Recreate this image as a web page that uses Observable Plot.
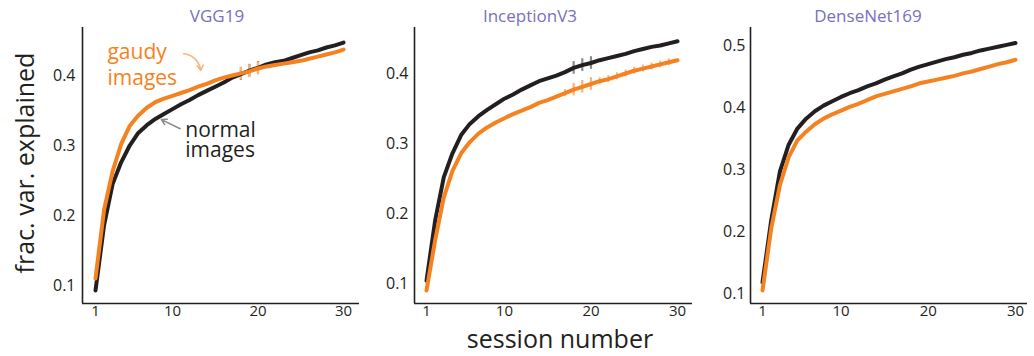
<!DOCTYPE html>
<html>
<head>
<meta charset="utf-8">
<script src="https://cdn.jsdelivr.net/npm/d3@7"></script>
<script src="https://cdn.jsdelivr.net/npm/@observablehq/plot@0.6"></script>
<style>
  html, body { margin: 0; padding: 0; background: #fff; }
  #root { position: relative; width: 1034px; height: 356px; overflow: hidden; font-family: "Open Sans", sans-serif; }
  .panel { position: absolute; top: 0; }
  .title { position: absolute; top: 4px; font-size: 17px; color: #7770BC; transform: translateX(-50%); white-space: nowrap; }
  .ylab { position: absolute; left: 24px; top: 163px; font-size: 25px; color: #231F20; transform: translate(-50%, -50%) rotate(-90deg); white-space: nowrap; }
  .xlab { position: absolute; left: 560px; top: 322px; font-size: 25px; line-height: 32px; color: #231F20; transform: translateX(-50%); white-space: nowrap; }
</style>
</head>
<body>
<div id="root"></div>
<script>
const sessions = d3.range(1, 31);
const models = ["VGG19", "InceptionV3", "DenseNet169"];

const vggNormal = [0.093,0.186,0.245,0.276,0.300,0.318,0.329,0.338,0.345,0.352,0.359,0.365,0.372,0.378,0.384,0.390,0.397,0.402,0.407,0.411,0.416,0.419,0.421,0.425,0.429,0.433,0.436,0.440,0.443,0.447];
const vggGaudy  = [0.110,0.208,0.263,0.302,0.328,0.343,0.354,0.362,0.367,0.371,0.375,0.379,0.384,0.388,0.393,0.397,0.400,0.403,0.406,0.410,0.413,0.415,0.417,0.419,0.421,0.424,0.427,0.430,0.433,0.437];
const incNormal = [0.104,0.190,0.252,0.286,0.312,0.328,0.339,0.348,0.356,0.364,0.370,0.377,0.383,0.389,0.393,0.397,0.402,0.408,0.412,0.415,0.419,0.422,0.425,0.428,0.432,0.435,0.438,0.440,0.443,0.446];
const incGaudy  = [0.090,0.162,0.223,0.261,0.286,0.302,0.314,0.323,0.330,0.336,0.342,0.347,0.352,0.358,0.362,0.367,0.372,0.377,0.381,0.385,0.389,0.392,0.396,0.400,0.404,0.407,0.410,0.413,0.416,0.419];
const denNormal = [0.118,0.218,0.297,0.340,0.366,0.382,0.394,0.403,0.410,0.417,0.423,0.428,0.434,0.439,0.445,0.450,0.455,0.461,0.466,0.470,0.474,0.478,0.481,0.485,0.488,0.492,0.495,0.498,0.501,0.504];
const denGaudy  = [0.105,0.205,0.275,0.320,0.347,0.361,0.373,0.382,0.389,0.395,0.401,0.406,0.412,0.418,0.422,0.426,0.430,0.434,0.439,0.442,0.445,0.448,0.451,0.455,0.458,0.462,0.466,0.470,0.473,0.477];

// sessions with visible error bars, and their half-widths
const errSessions = [18, 19, 20];
const errHalf = [0.009, 0.009, 0.009];
// faint error ticks along the gaudy curve of InceptionV3
const faintSessions = [17, 18, 19, 20, 21, 22, 23, 24, 25, 26, 27, 28, 29];
const faintHalf = 0.005;

const xTicks = [1, 10, 20, 30];
const yTicksA = [0.1, 0.2, 0.3, 0.4];
const yTicksB = [0.1, 0.2, 0.3, 0.4, 0.5];

const annGaudy = "gaudy\nimages";
const annNormal = "normal\nimages";

const BLACK = "#231F20", ORANGE = "#F58220", GRAY = "#8a8a8a", LORANGE = "#F9B27A";

const panels = [
  {name: models[0], normal: vggNormal, gaudy: vggGaudy, left: 0, width: 365, ml: 82, mr: 6,
   xd: [-0.52, 31.87], yd: [0.0743, 0.4686], yt: yTicksA, pad: 7, titleX: 217, errN: true, errG: true, faint: false},
  {name: models[1], normal: incNormal, gaudy: incGaudy, left: 340, width: 360, ml: 74, mr: 8,
   xd: [-0.386, 31.73], yd: [0.0714, 0.4657], yt: yTicksA, pad: 6, titleX: 530, errN: true, errG: true, faint: true},
  {name: models[2], normal: denNormal, gaudy: denGaudy, left: 680, width: 354, ml: 70, mr: 7,
   xd: [-0.376, 31.38], yd: [0.0839, 0.529], yt: yTicksB, pad: 5, titleX: 868, errN: false, errG: false, faint: false}
];

const root = document.getElementById("root");

panels.forEach((p, i) => {
  const normal = sessions.map((s, k) => ({s, v: p.normal[k]}));
  const gaudy = sessions.map((s, k) => ({s, v: p.gaudy[k]}));
  const errN = p.errN ? errSessions.map((s, k) => ({s, lo: p.normal[s-1] - errHalf[k], hi: p.normal[s-1] + errHalf[k]})) : [];
  const errG = p.errG ? errSessions.map((s, k) => ({s, lo: p.gaudy[s-1] - errHalf[k], hi: p.gaudy[s-1] + errHalf[k]})) : [];
  const faint = p.faint ? faintSessions.map(s => ({s, lo: p.gaudy[s-1] - faintHalf, hi: p.gaudy[s-1] + faintHalf})) : [];

  const marks = [
    Plot.axisX({ticks: xTicks, tickSize: 0, tickPadding: 2, fontSize: 15, color: BLACK, label: null, tickFormat: d => d}),
    Plot.axisY({ticks: p.yt, tickSize: 0, tickPadding: p.pad, fontSize: 16, color: BLACK, label: null, tickFormat: d3.format(".1f")}),
    Plot.ruleX([p.xd[0]], {stroke: BLACK, strokeWidth: 1.6}),
    Plot.ruleY([p.yd[0]], {stroke: BLACK, strokeWidth: 1.6}),
    Plot.ruleX(faint, {x: "s", y1: "lo", y2: "hi", stroke: LORANGE, strokeWidth: 1.8}),
    Plot.ruleX(errN, {x: "s", y1: "lo", y2: "hi", stroke: GRAY, strokeWidth: 2.2}),
    Plot.ruleX(errG, {x: "s", y1: "lo", y2: "hi", stroke: LORANGE, strokeWidth: 2.2}),
    Plot.line(normal, {x: "s", y: "v", stroke: BLACK, strokeWidth: 4, strokeLinejoin: "round"}),
    Plot.line(gaudy, {x: "s", y: "v", stroke: ORANGE, strokeWidth: 4, strokeLinejoin: "round"})
  ];

  if (i === 0) {
    marks.push(
      Plot.text([annGaudy], {x: 2.4, y: 0.4171, text: d => d, textAnchor: "start", fill: ORANGE, fontSize: 21, lineAnchor: "middle", lineHeight: 1.24}),
      Plot.text([annNormal], {x: 11.5, y: 0.3071, text: d => d, textAnchor: "start", fill: BLACK, fontSize: 21, lineAnchor: "middle", lineHeight: 0.93}),
      Plot.arrow([{x1: 11.3, y1: 0.431, x2: 13.3, y2: 0.407}], {x1: "x1", y1: "y1", x2: "x2", y2: "y2", bend: 40, stroke: LORANGE, strokeWidth: 1.5, headLength: 6}),
      Plot.arrow([{x1: 10.9, y1: 0.324, x2: 8.7, y2: 0.337}], {x1: "x1", y1: "y1", x2: "x2", y2: "y2", stroke: GRAY, strokeWidth: 1.5, headLength: 6})
    );
  }

  const chart = Plot.plot({
    width: p.width,
    height: 356,
    marginLeft: p.ml,
    marginRight: p.mr,
    marginTop: 27,
    marginBottom: 53,
    style: {fontFamily: "'Open Sans', sans-serif", fontSize: "16px", background: "transparent", overflow: "visible"},
    x: {domain: p.xd},
    y: {domain: p.yd},
    marks
  });
  chart.classList.add("panel");
  chart.style.left = p.left + "px";
  root.appendChild(chart);

  const t = document.createElement("div");
  t.className = "title";
  t.style.left = p.titleX + "px";
  t.textContent = p.name;
  root.appendChild(t);
});

const yl = document.createElement("div");
yl.className = "ylab";
yl.textContent = "frac. var. explained";
root.appendChild(yl);

const xl = document.createElement("div");
xl.className = "xlab";
xl.textContent = "session number";
root.appendChild(xl);
</script>
</body>
</html>
